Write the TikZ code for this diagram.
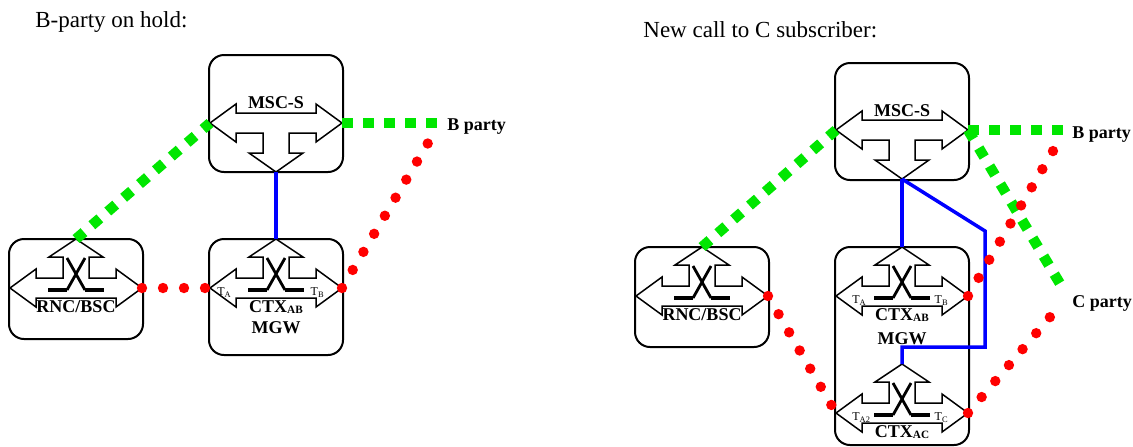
\documentclass[tikz,border=0pt]{standalone}
\usepackage{fontspec}
\setmainfont{Liberation Serif}
\definecolor{sigGreen}{RGB}{0,230,0}
\newcommand{\termlab}[1]{T\raisebox{-1pt}{\fontsize{4.2}{4.2}\selectfont #1}}
\newcommand{\ctxlab}[1]{CTX\raisebox{-0.6pt}{\fontsize{5.6}{5.6}\selectfont #1}}
\tikzset{
  unit box/.style={draw=black,line width=1pt,rounded corners=7.5pt,minimum width=67pt,inner sep=0pt},
  arrow shape/.style={draw=black,line width=0.75pt,fill=white,line join=miter},
  switch bar/.style={line width=2.2pt},
  switch leg/.style={line width=1.4pt},
  signal link/.style={draw=sigGreen,line width=5.2pt,dash pattern=on 5.25pt off 5.25pt},
  media link/.style={draw=red,line width=5.2pt,line cap=round,dash pattern=on 0pt off 10.5pt},
  control link/.style={draw=blue,line width=1.75pt},
  unit label/.style={font=\bfseries\fontsize{9}{10}\selectfont,inner sep=0pt},
  term label/.style={font=\fontsize{6}{7}\selectfont,inner sep=0pt},
  title label/.style={font=\fontsize{11.5}{13}\selectfont,inner sep=0pt,anchor=base west},
  pics/server arrow/.style={code={
    \draw[arrow shape] (-66,0) -- (-40,-19) -- (-40,-10) -- (40,-10) -- (40,-19) -- (66,0)
      -- (40,19) -- (40,10) -- (13,10) -- (13,30) -- (27,30) -- (0,49) -- (-27,30)
      -- (-13,30) -- (-13,10) -- (-40,10) -- (-40,19) -- cycle;
    \coordinate (-west) at (-66,0);
    \coordinate (-east) at (66,0);
    \coordinate (-south) at (0,49);
  }},
  pics/switch/.style={code={
    \draw[arrow shape] (-66,0) -- (-40,-19) -- (-40,-10) -- (-13,-10) -- (-13,-31) -- (-27,-31)
      -- (0,-49) -- (27,-31) -- (13,-31) -- (13,-10) -- (40,-10) -- (40,-19) -- (66,0)
      -- (40,19) -- (40,10) -- (-40,10) -- (-40,19) -- cycle;
    \draw[switch bar] (-28,2) -- (-9,2) (9,2) -- (28,2);
    \draw[switch leg] (-9,2) -- (9,-30) (9,2) -- (-9,-30);
    \coordinate (-west) at (-66,0);
    \coordinate (-east) at (66,0);
    \coordinate (-north) at (0,-49);
  }}
}

\begin{document}
\begin{tikzpicture}[x=0.5pt,y=-0.5pt]
  \useasboundingbox (0,0) rectangle (1133,446);

  \node[title label] (holdTitle) at (35,27) {B-party on hold:};
  \node[title label] (newTitle) at (643,37) {New call to C subscriber:};

  % B-party on hold
  \begin{scope}
    \node[unit box,minimum height=58.5pt] (mscL) at (276,113.5) {};
    \pic (srvL) at (276,123) {server arrow};
    \node[unit label,anchor=base] (mscLtxt) at (276,108) {MSC-S};

    \node[unit box,minimum height=50pt] (rncL) at (76,289) {};
    \pic (rncswL) at (76,288) {switch};
    \node[unit label,anchor=base] (rncLtxt) at (76,312) {RNC/BSC};

    \node[unit box,minimum height=58pt] (mgwL) at (276,297) {};
    \pic (swL) at (276,288) {switch};
    \node[term label,anchor=base west] (taL) at (217,295) {\termlab{A}};
    \node[term label,anchor=base east] (tbL) at (324,295) {\termlab{B}};
    \node[unit label,anchor=base] (ctxL) at (276,312) {\ctxlab{AB}};
    \node[unit label,anchor=base] (mgwLtxt) at (276,333) {MGW};

    \node[unit label,anchor=base west] (bL) at (447,130) {B party};
    \coordinate (bendL) at (440,123);
    \coordinate (bdotL) at (428,143);

    \draw[signal link] (rncswL-north) -- (srvL-west);
    \draw[signal link] (srvL-east) -- (bendL);
    \draw[control link] (srvL-south) -- (swL-north);
    \draw[media link] (rncswL-east) -- (swL-west);
    \draw[media link] (swL-east) -- (bdotL);
  \end{scope}

  % new call to C subscriber
  \begin{scope}[shift={(626,8)}]
    \node[unit box,minimum height=58.5pt] (mscR) at (276,113.5) {};
    \pic (srvR) at (276,122) {server arrow};
    \node[unit label,anchor=base] (mscRtxt) at (276,108) {MSC-S};

    \node[unit box,minimum height=50pt] (rncR) at (76,289) {};
    \pic (rncswR) at (76,288) {switch};
    \node[unit label,anchor=base] (rncRtxt) at (76,312) {RNC/BSC};

    \node[unit box,minimum height=99pt] (mgwR) at (276,338) {};
    \pic (swR1) at (276,288) {switch};
    \node[term label,anchor=base west] (taR1) at (226,295) {\termlab{A}};
    \node[term label,anchor=base east] (tbR1) at (322,295) {\termlab{B}};
    \node[unit label,anchor=base] (ctxR1) at (276,312) {\ctxlab{AB}};
    \node[unit label,anchor=base] (mgwRtxt) at (276,336) {MGW};

    \pic (swR2) at (276,405) {switch};
    \node[term label,anchor=base west] (taR2) at (226,412) {\termlab{A2}};
    \node[term label,anchor=base east] (tcR2) at (322,412) {\termlab{C}};
    \node[unit label,anchor=base] (ctxR2) at (276,429) {\ctxlab{AC}};

    \node[unit label,anchor=base west] (bR) at (446,130) {B party};
    \node[unit label,anchor=base west] (cR) at (446,299) {C party};
    \coordinate (bendR) at (440,122);
    \coordinate (cendR) at (436,279);
    \coordinate (bdotR) at (427,143);
    \coordinate (cdotR) at (424,309);

    \draw[signal link] (rncswR-north) -- (srvR-west);
    \draw[signal link] (srvR-east) -- (bendR);
    \draw[signal link] (srvR-east) -- (cendR);
    \draw[control link] (srvR-south) -- (swR1-north);
    \draw[control link] (srvR-south) -- (359,223) -- (359,339) -| (swR2-north);
    \draw[media link] (rncswR-east) -- (swR2-west);
    \draw[media link] (swR1-east) -- (bdotR);
    \draw[media link] (swR2-east) -- (cdotR);
  \end{scope}
\end{tikzpicture}
\end{document}
